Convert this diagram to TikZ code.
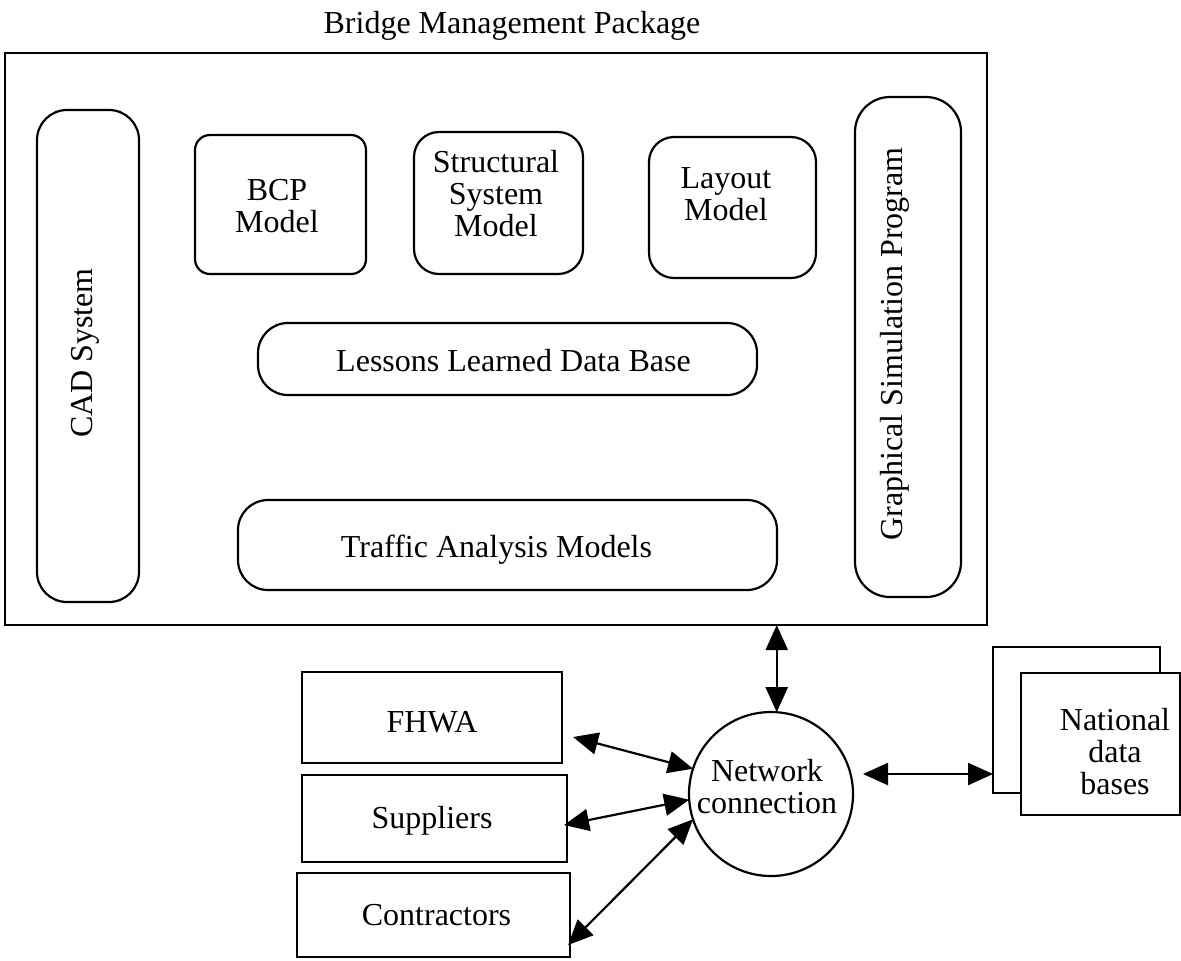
\documentclass[tikz,border=0pt]{standalone}
\usepackage{fontspec}
\setmainfont{Liberation Serif}
\usetikzlibrary{arrows.meta}
\begin{document}
\begin{tikzpicture}[x=0.5pt,y=-0.5pt,
  box/.style={draw, line width=1.1pt, inner sep=0pt, outer sep=0pt},
  txt/.style={inner sep=0pt, outer sep=0pt, font=\fontsize{16}{16}\selectfont, align=center},
  tip/.style={Triangle[length=12.5pt,width=11pt]},
  dbl/.style={line width=1.1pt, {Triangle[length=12.5pt,width=11pt]}-{Triangle[length=12.5pt,width=11pt]}}]
\useasboundingbox (0,0) rectangle (1181,960);

% title
\node[txt, anchor=base] (title) at (512,33) {Bridge Management Package};

% main package box
\node[box, minimum width=491pt, minimum height=286pt] (main) at (496,339) {};

% inner components
\node[box, rounded corners=15pt, minimum width=51pt, minimum height=246pt] (cad) at (88,356) {};
\node[txt, rotate=90, anchor=base] (cadt) at (92,353) {CAD System};

\node[box, rounded corners=7.5pt, minimum width=85.5pt, minimum height=69.5pt] (bcp) at (280.5,204.5) {};
\node[txt] (bcpt) at (277,206.5) {BCP\\Model};

\node[box, rounded corners=12.5pt, minimum width=84.5pt, minimum height=71pt] (struct) at (498.5,203) {};
\node[txt] (structt) at (496,194) {Structural\\System\\Model};

\node[box, rounded corners=12.5pt, minimum width=83.5pt, minimum height=70.5pt] (layout) at (732.5,207.5) {};
\node[txt] (layoutt) at (726,194) {Layout\\Model};

\node[box, rounded corners=17.5pt, minimum width=53pt, minimum height=250pt] (graph) at (908,347) {};
\node[txt, rotate=90, anchor=base] (grapht) at (902,344) {Graphical Simulation Program};

\node[box, rounded corners=15pt, minimum width=249.5pt, minimum height=36pt] (lessons) at (507.5,359) {};
\node[txt, anchor=base] (lessonst) at (513.5,371) {Lessons Learned Data Base};

\node[box, rounded corners=15pt, minimum width=269.5pt, minimum height=45pt] (traffic) at (507.5,545) {};
\node[txt, anchor=base] (traffict) at (496.5,557) {Traffic Analysis Models};

% outside parties
\node[box, minimum width=130pt, minimum height=45.5pt] (fhwa) at (432,717.5) {};
\node[txt, anchor=base] (fhwat) at (432,732) {FHWA};

\node[box, minimum width=132.5pt, minimum height=43.5pt] (sup) at (434.5,818.5) {};
\node[txt, anchor=base] (supt) at (432,828) {Suppliers};

\node[box, minimum width=136.5pt, minimum height=42pt] (con) at (433.5,915) {};
\node[txt, anchor=base] (cont) at (436.5,925) {Contractors};

% network connection
\node[box, circle, minimum size=82pt] (net) at (771,794) {};
\node[txt] (nett) at (767,787) {Network\\connection};

% national data bases (stacked)
\node[box, minimum width=83.5pt, minimum height=73pt] (natback) at (1076.5,720) {};
\node[box, fill=white, minimum width=79.5pt, minimum height=71pt] (natfront) at (1100.5,744) {};
\node[txt] (natt) at (1115,751.5) {National\\data\\bases};

% connectors
\coordinate (fhwa-a) at (573,737);
\coordinate (sup-a) at (564,825);
\coordinate (con-a) at (568,945);
\coordinate (nat-a) at (863,774);

\draw[dbl] (net.86.5) -- (net.86.5 |- main.south);
\draw[dbl] (fhwa-a) -- (net.162);
\draw[dbl] (sup-a) -- (net.184);
\draw[dbl] (con-a) -- (net.198);
\draw[dbl] (nat-a) -- (natback.west |- nat-a);
\end{tikzpicture}
\end{document}
